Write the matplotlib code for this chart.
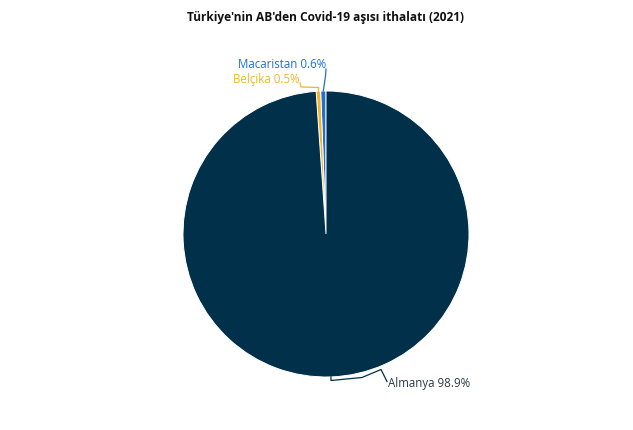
import numpy as np
import matplotlib
matplotlib.use("Agg")
import matplotlib.pyplot as plt

plt.rcParams['font.family'] = ['Open Sans', 'DejaVu Sans']

# chart data
countries = ['Macaristan', 'Belçika', 'Almanya']
shares = [0.6, 0.5, 98.9]
colors = ['#1f6fd6', '#f2b526', '#01304a']
label_colors = ['#1f6fd6', '#f2b526', '#2b3a45']

W, H = 633, 430
CX, CY, R = 326, 234, 143


def px(x, y):
    # pixel position (from top-left) -> pie data coordinates
    return (x - CX) / R, (CY - y) / R


fig = plt.figure(figsize=(W / 100, H / 100), dpi=100)
ax = fig.add_axes([(CX - R) / W, (H - CY - R) / H, 2 * R / W, 2 * R / H])
wedges, _ = ax.pie(shares, colors=colors, startangle=90, counterclock=True,
                   radius=1, wedgeprops=dict(edgecolor='white', linewidth=0.7))
ax.set_xlim(-1, 1)
ax.set_ylim(-1, 1)
ax.set_aspect('equal')
ax.axis('off')

fig.text(CX / W, 1 - 17 / H, "Türkiye'nin AB'den Covid-19 aşısı ithalatı (2021)",
         ha='center', va='center', fontsize=8.6, fontweight='bold', color='#111111')

# leader line bends (pixels) and label anchors
bends = [
    [(325.5, 76), (326, 69)],
    [(318.7, 87.5), (301, 87), (300, 83)],
    [(331, 380.5), (362, 377.5), (381, 369.5), (387, 381.5)],
]
label_pos = [(326, 64, 'right'), (300, 80, 'right'), (388, 383, 'left')]

for w, name, val, lc, bend, (tx, ty, ha) in zip(wedges, countries, shares, label_colors, bends, label_pos):
    mid = np.deg2rad((w.theta1 + w.theta2) / 2)
    pts = [(np.cos(mid), np.sin(mid))] + [px(x, y) for x, y in bend]
    xs, ys = zip(*pts)
    ax.plot(xs, ys, color=w.get_facecolor(), lw=0.9, clip_on=False)
    lx, ly = px(tx, ty)
    ax.text(lx, ly, f'{name} {val}%', ha=ha, va='center', fontsize=8.3,
            color=lc, clip_on=False)

fig.savefig('out.png', dpi=100)
